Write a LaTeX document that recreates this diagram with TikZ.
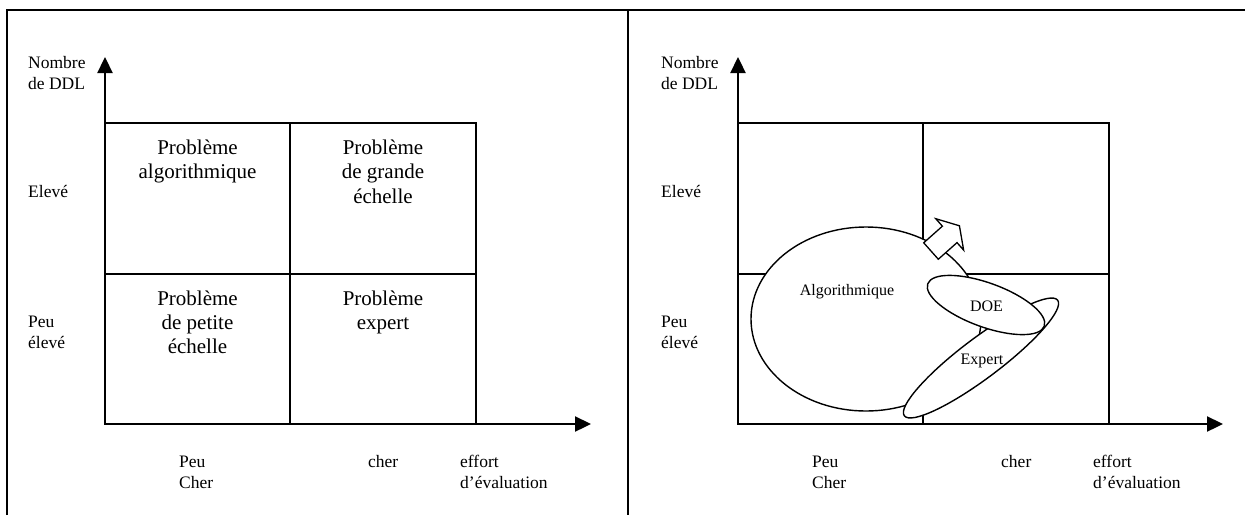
\documentclass[tikz,border=0pt]{standalone}
\usepackage{fontspec}
\setmainfont{Liberation Serif}
\usetikzlibrary{arrows.meta,shapes.geometric}
\begin{document}
\begin{tikzpicture}[x=1pt,y=-1pt,
  frame/.style={line width=1.3pt},
  axis/.style={line width=2.3pt,-{Triangle[length=16pt,width=15pt]}},
  gridline/.style={line width=1.6pt},
  lbl/.style={font=\fontsize{17.5}{21.5}\selectfont,align=left,anchor=base west,inner sep=0pt},
  cell/.style={font=\fontsize{21}{24.3}\selectfont,align=center,anchor=base,inner sep=0pt},
  zone/.style={draw,fill=white,line width=1.4pt,ellipse,inner sep=0pt},
  zlbl/.style={font=\fontsize{16}{19}\selectfont,anchor=base,inner sep=0pt},
  blockarrow/.style={draw,fill=white,line width=1.3pt,line join=miter}
]
\useasboundingbox[fill=white] (0,0) rectangle (1245,515);
% frame
\draw[frame] (7,515) -- (7,10) -- (1245,10);
\draw[frame] (628,10) -- (628,515);

% ---------- left panel ----------
\coordinate (oA) at (105,424);
\coordinate (yA) at (105,57);
\coordinate (xA) at (591,424);
\draw[gridline] (105,123) rectangle (476,424);
\draw[gridline] (290,123) -- (290,424);
\draw[gridline] (105,274) -- (476,274);
\draw[axis] (oA) -- (yA);
\draw[axis] (oA) -- (xA);

% (base anchor of a multi-line node = baseline of its last line)
\node[lbl] (nbA) at (28,89.5) {Nombre\\de DDL};
\node[lbl] (elA) at (28,197) {Elevé};
\node[lbl] (peA) at (28,348.5) {Peu\\élevé};
\node[lbl] (pcA) at (179,488.5) {Peu\\Cher};
\node[lbl] (chA) at (368,467) {cher};
\node[lbl] (efA) at (460,488.5) {effort\\d’évaluation};

\node[cell] (c11) at (197.5,178.8) {Problème\\algorithmique};
\node[cell] (c12) at (383,203.1) {Problème\\de grande\\échelle};
\node[cell] (c21) at (197.5,353.6) {Problème\\de petite\\échelle};
\node[cell] (c22) at (383,329.3) {Problème\\expert};

% ---------- right panel ----------
\coordinate (oB) at (738,424);
\coordinate (yB) at (738,57);
\coordinate (xB) at (1223,424);
\draw[gridline] (738,123) rectangle (1109,424);
\draw[gridline] (923,123) -- (923,424);
\draw[gridline] (738,274) -- (1109,274);
\draw[axis] (oB) -- (yB);
\draw[axis] (oB) -- (xB);

\node[lbl] (nbB) at (661,89.5) {Nombre\\de DDL};
\node[lbl] (elB) at (661,197) {Elevé};
\node[lbl] (peB) at (661,348.5) {Peu\\élevé};
\node[lbl] (pcB) at (812,488.5) {Peu\\Cher};
\node[lbl] (chB) at (1001,467) {cher};
\node[lbl] (efB) at (1093,488.5) {effort\\d’évaluation};

% zones
\node[zone,minimum width=230pt,minimum height=184pt] (algo) at (866,319) {};
\draw[blockarrow,shift={(931,251)},rotate=41.6]
  (0,-11) -- (25,-11) -- (25,-21) -- (38,0) -- (25,21) -- (25,11) -- (0,11) -- cycle;
\node[zone,minimum width=192pt,minimum height=40pt,rotate=37] (expert) at (981,358) {};
\node[zone,minimum width=124pt,minimum height=44pt,rotate=-20] (doe) at (986,305) {};

\node[zlbl] (algot) at (847,295) {Algorithmique};
\node[zlbl] (doet) at (986.5,311) {DOE};
\node[zlbl] (expt) at (982,364) {Expert};
\end{tikzpicture}
\end{document}
